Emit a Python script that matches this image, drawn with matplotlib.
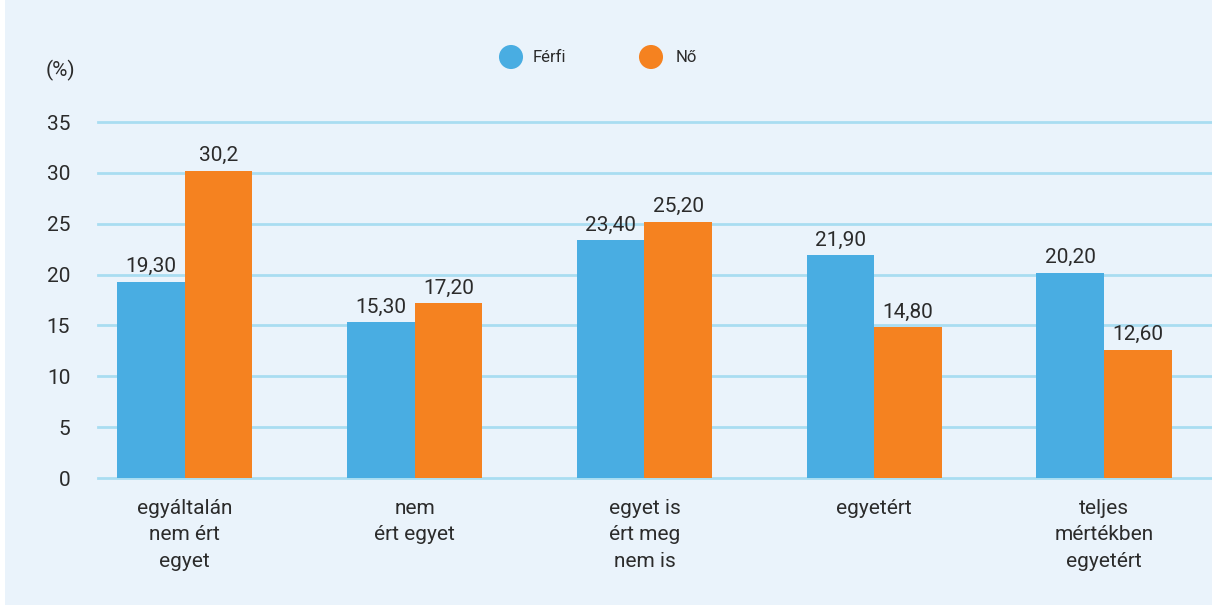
import matplotlib.pyplot as plt
import matplotlib.patches as mpatches
import numpy as np

categories = ['egyáltalán\nnem ért\negyet', 'nem\nért egyet', 'egyet is\nért meg\nnem is',
              'egyetért', 'teljes\nmértékben\negyetért']
ferfi = [19.3, 15.3, 23.4, 21.9, 20.2]
no = [30.2, 17.2, 25.2, 14.8, 12.6]
ferfi_labels = ['19,30', '15,30', '23,40', '21,90', '20,20']
no_labels = ['30,2', '17,20', '25,20', '14,80', '12,60']
yticks = [0, 5, 10, 15, 20, 25, 30, 35]

blue = '#49ADE2'
orange = '#F58220'
bg = '#EAF3FB'
grid = '#A9DDF1'
txt = '#2B2B2B'

plt.rcParams['font.family'] = ['Roboto', 'DejaVu Sans']

fig = plt.figure(figsize=(12.12, 6.11), dpi=100, facecolor='white')
# light blue panel
fig.patches.append(mpatches.Rectangle((5 / 1212, 6 / 611), 1, 1, transform=fig.transFigure,
                                      facecolor=bg, edgecolor='none', zorder=-10))

ax = fig.add_axes([98 / 1212, 1 - 478 / 611, 1 - 98 / 1212, (478 - 122) / 611])
ax.set_facecolor('none')

x = np.arange(len(categories))
w = 0.294
ax.bar(x - w / 2, ferfi, w, color=blue, zorder=3)
ax.bar(x + w / 2, no, w, color=orange, zorder=3)

for xi, v, s in zip(x, ferfi, ferfi_labels):
    ax.annotate(s, (xi - w / 2, v), xytext=(0, 4), textcoords='offset points',
                ha='center', va='bottom', fontsize=15, color=txt)
for xi, v, s in zip(x, no, no_labels):
    ax.annotate(s, (xi + w / 2, v), xytext=(0, 4), textcoords='offset points',
                ha='center', va='bottom', fontsize=15, color=txt)

ax.set_ylim(0, 35)
ax.set_xlim(-0.378, 4.47)
ax.set_yticks(yticks)
ax.set_yticklabels([str(t) for t in yticks], fontsize=15, color=txt)
ax.yaxis.grid(True, color=grid, linewidth=2, zorder=0)
for line in ax.get_ygridlines():
    line.set_clip_on(False)
ax.set_xticks(x)
ax.set_xticklabels(categories, fontsize=15, color=txt, linespacing=1.5, va='top')
ax.tick_params(axis='both', length=0)
ax.tick_params(axis='y', pad=20)
ax.tick_params(axis='x', pad=15)
for sp in ax.spines.values():
    sp.set_visible(False)

fig.text(60 / 1212, 1 - 70 / 611, '(%)', fontsize=15, color=txt, ha='center', va='center')

# legend drawn in pixel coordinates
leg_ax = fig.add_axes([0, 0, 1, 1], facecolor='none')
leg_ax.set_xlim(0, 1212)
leg_ax.set_ylim(611, 0)
leg_ax.axis('off')
leg_ax.scatter([511, 651], [57, 57], s=300, color=[blue, orange], linewidths=0)
leg_ax.text(533, 57, 'Férfi', fontsize=12, color=txt, va='center')
leg_ax.text(676, 57, 'Nő', fontsize=12, color=txt, va='center')

plt.savefig('out.png', dpi=100, facecolor=fig.get_facecolor())
